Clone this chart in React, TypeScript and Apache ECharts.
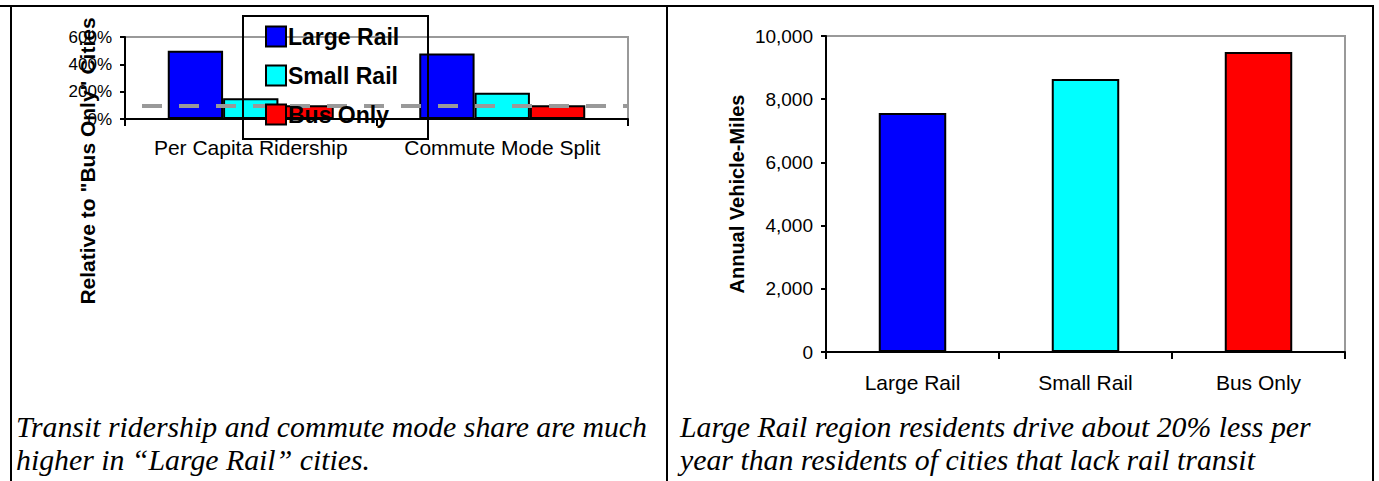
import React, { useEffect, useRef } from "react";
import * as echarts from "echarts";

const leftCategories = ["Per Capita Ridership", "Commute Mode Split"];
const seriesNames = ["Large Rail", "Small Rail", "Bus Only"];
const seriesColors = ["#0000FF", "#00FFFF", "#FF0000"];
const largeRailRel = [500, 480];
const smallRailRel = [152, 192];
const busOnlyRel = [100, 100];
const busBaseline = 100;

const rightCategories = ["Large Rail", "Small Rail", "Bus Only"];
const annualVMT = [7560, 8640, 9490];

const leftCaption = ["Transit ridership and commute mode share are much", "higher in \u201cLarge Rail\u201d cities."];
const rightCaption = ["Large Rail region residents drive about 20% less per", "year than residents of cities that lack rail transit"];

const SANS = "Arial, 'Liberation Sans', sans-serif";
const SERIF = "'Times New Roman', 'Liberation Serif', serif";

export default function App() {
  const ref = useRef<HTMLDivElement>(null);
  useEffect(() => {
    document.body.style.margin = "0";
    const chart = echarts.init(ref.current!, null, { renderer: "svg" });
    const leftData = [largeRailRel, smallRailRel, busOnlyRel];
    const option: any = {
      animation: false,
      backgroundColor: "#fff",
      legend: {
        data: seriesNames,
        orient: "vertical",
        left: 265,
        top: 25,
        icon: "rect",
        itemWidth: 20,
        itemHeight: 20,
        itemGap: 16,
        padding: 0,
        z: 10,
        textStyle: { fontFamily: SANS, fontWeight: "bold", fontSize: 23, color: "#000", padding: [0, 0, 0, -3] },
      },
      grid: [
        { left: 125, top: 37, width: 503, height: 82, show: true, borderColor: "#999", borderWidth: 2, backgroundColor: "transparent" },
        { left: 826, top: 36, width: 519, height: 316, show: true, borderColor: "#999", borderWidth: 2, backgroundColor: "transparent" },
      ],
      xAxis: [
        {
          type: "category", gridIndex: 0, data: leftCategories,
          axisLine: { lineStyle: { color: "#000", width: 2 } },
          axisTick: { show: true, length: 7, lineStyle: { color: "#000", width: 2 } },
          axisLabel: { color: "#000", fontFamily: SANS, fontSize: 21, margin: 18, interval: 0 },
        },
        {
          type: "category", gridIndex: 1, data: rightCategories,
          axisLine: { lineStyle: { color: "#000", width: 2 } },
          axisTick: { show: true, length: 7, lineStyle: { color: "#000", width: 2 } },
          axisLabel: { color: "#000", fontFamily: SANS, fontSize: 21, margin: 20, interval: 0 },
        },
      ],
      yAxis: [
        {
          type: "value", gridIndex: 0, min: 0, max: 600, interval: 200,
          axisLine: { show: true, lineStyle: { color: "#000", width: 2 } },
          axisTick: { show: true, length: 5, lineStyle: { color: "#000", width: 2 } },
          splitLine: { show: false },
          axisLabel: { color: "#000", fontFamily: SANS, fontSize: 17, margin: 13, formatter: "{value}%" },
        },
        {
          type: "value", gridIndex: 1, min: 0, max: 10000, interval: 2000,
          axisLine: { show: true, lineStyle: { color: "#000", width: 2 } },
          axisTick: { show: true, length: 5, lineStyle: { color: "#000", width: 2 } },
          splitLine: { show: false },
          axisLabel: {
            color: "#000", fontFamily: SANS, fontSize: 19, margin: 13,
            formatter: (v: number) => v.toLocaleString("en-US"),
          },
          name: "Annual Vehicle-Miles",
          nameLocation: "middle",
          nameGap: 79,
          nameRotate: 90,
          nameTextStyle: { color: "#000", fontFamily: SANS, fontWeight: "bold", fontSize: 20 },
        },
      ],
      series: [
        ...seriesNames.map((name, i) => ({
          type: "bar",
          name,
          xAxisIndex: 0,
          yAxisIndex: 0,
          data: leftData[i],
          barGap: "0%",
          barCategoryGap: "34%",
          itemStyle: { color: seriesColors[i], borderColor: "#000", borderWidth: 2 },
          ...(i === 2
            ? {
                markLine: {
                  silent: true,
                  symbol: "none",
                  label: { show: false },
                  lineStyle: { color: "#999", width: 4, type: [20, 17], dashOffset: 20 },
                  data: [{ yAxis: busBaseline }],
                  z: 5,
                },
              }
            : {}),
        })),
        {
          type: "bar",
          name: "vmt",
          xAxisIndex: 1,
          yAxisIndex: 1,
          data: annualVMT.map((v, i) => ({ value: v, itemStyle: { color: seriesColors[i] } })),
          barWidth: "39%",
          itemStyle: { borderColor: "#000", borderWidth: 2 },
        },
      ],
      graphic: [
        { type: "line", shape: { x1: 0, y1: 6, x2: 1374, y2: 6 }, style: { stroke: "#000", lineWidth: 2 } },
        { type: "line", shape: { x1: 11, y1: 6, x2: 11, y2: 481 }, style: { stroke: "#000", lineWidth: 2 } },
        { type: "line", shape: { x1: 667, y1: 6, x2: 667, y2: 481 }, style: { stroke: "#000", lineWidth: 2 } },
        { type: "line", shape: { x1: 1373, y1: 6, x2: 1373, y2: 481 }, style: { stroke: "#000", lineWidth: 2 } },
        { type: "rect", shape: { x: 243, y: 16, width: 185, height: 123 }, style: { fill: "none", stroke: "#000", lineWidth: 2 }, z: 20 },
        {
          type: "text", x: 87, y: 161, rotation: Math.PI / 2,
          style: { text: "Relative to \"Bus Only\" Cities", fill: "#000", font: `bold 21px ${SANS}`, textAlign: "center", textVerticalAlign: "middle" },
        },
        ...leftCaption.map((t, i) => ({
          type: "text", x: 16, y: 426 + i * 33,
          style: { text: t, fill: "#000", font: `italic 29.8px ${SERIF}`, textVerticalAlign: "middle" },
        })),
        ...rightCaption.map((t, i) => ({
          type: "text", x: 680, y: 426 + i * 33,
          style: { text: t, fill: "#000", font: `italic 29.8px ${SERIF}`, textVerticalAlign: "middle" },
        })),
      ],
    };
    chart.setOption(option);
    return () => chart.dispose();
  }, []);
  return <div ref={ref} style={{ width: 1379, height: 481 }} />;
}
